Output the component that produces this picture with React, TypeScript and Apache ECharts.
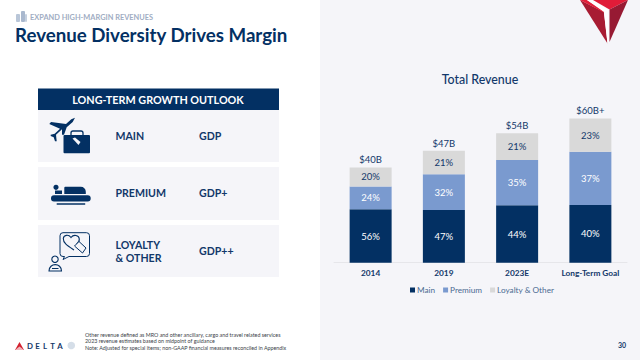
import React, { useEffect, useRef } from "react";
import * as echarts from "echarts";

const categories = ["2014", "2019", "2023E", "Long-Term Goal"];
const mainValues = [22.4, 22.1, 24.1, 24.2];
const premiumValues = [9.6, 15.0, 19.0, 22.4];
const loyaltyValues = [8.0, 9.9, 11.3, 14.0];
const totalValues = [40.0, 47.0, 54.4, 60.6];
const mainLabels = ["56%", "47%", "44%", "40%"];
const premiumLabels = ["24%", "32%", "35%", "37%"];
const loyaltyLabels = ["20%", "21%", "21%", "23%"];
const totalLabels = ["$40B", "$47B", "$54B", "$60B+"];
const footnotes = [
  "Other revenue defined as MRO and other ancillary, cargo and travel related services",
  "2023 revenue estimates based on midpoint of guidance",
  "Note: Adjusted for special items; non-GAAP financial measures reconciled in Appendix",
];
const outlookRows = [
  { y: 110, h: 52 },
  { y: 167, h: 53 },
  { y: 225, h: 52 },
];

const NAVY = "#033063";
const INK = "#12386a";
const BLUE = "#7a9acf";
const GREY = "#d9d9d9";
const FONT = "Lato";

echarts.graphic.registerShape(
  "dlPlane",
  echarts.graphic.extendPath(
    "M75 117.7 L72.7 122 L66.7 127.3 L64 134.7 L62 134.7 L62 129.3 L56 134.7 L56.7 141.3 L55 141.3 L53.7 137.3 L50.7 136 L50.7 134.7 L54.7 133.7 L60 128.7 L49.3 124 L51 122 L66 124 L71.3 119.3 Z",
    {}
  )
);
echarts.graphic.registerShape(
  "dlHeart",
  echarts.graphic.extendPath(
    "M74 250 C68 246 63 243 63.3 238.5 C63.6 235 68.5 234 71 237.5 C73.5 234 79 235 79.3 239 C79.5 241 78 243 76.5 244.5",
    {}
  )
);
echarts.graphic.registerShape(
  "dlBody",
  echarts.graphic.extendPath(
    "M49 271 C49 262.5 61.5 262.5 61.5 271 L61.5 271 Z M52 268.5 L58.5 268.5",
    {}
  )
);
echarts.graphic.registerShape(
  "dlBubble",
  echarts.graphic.extendPath(
    "M63 232.7 L86.5 232.7 Q89.5 232.7 89.5 235.7 L89.5 253.5 Q89.5 256.5 86.5 256.5 L69 256.5 L63 259.5 L64.5 256.5 L63 256.5 Q60 256.5 60 253.5 L60 235.7 Q60 232.7 63 232.7 Z",
    {}
  )
);

function text(x: number, y: number, t: string, size: number, fill: string, weight: any = "normal", align: any = "left") {
  return {
    type: "text",
    x,
    y,
    style: { text: t, fontFamily: FONT, fontSize: size, fontWeight: weight, fill, align, verticalAlign: "middle" },
  };
}
function rect(x: number, y: number, width: number, height: number, fill: string, r = 0) {
  return { type: "rect", shape: { x, y, width, height, r }, style: { fill } };
}
function poly(points: number[][], fill: string) {
  return { type: "polygon", shape: { points }, style: { fill } };
}

const graphicElements: any[] = [
  rect(320, 0, 320, 360, "#f5f5f9"),
  // header icon
  rect(16, 14, 4, 8, "#b9c6d8", 1),
  rect(21, 11, 4, 11, "#a9b8ce", 1),
  rect(25, 14, 2, 8, "#c5d0df", 1),
  text(30, 17.5, "EXPAND HIGH-MARGIN REVENUES", 7.4, "#9fadc3", "bold"),
  text(15, 35, "Revenue Diversity Drives Margin", 18.7, NAVY, "bold"),
  // outlook table
  rect(38, 88.5, 241, 21.5, NAVY),
  text(158, 99.7, "LONG-TERM GROWTH OUTLOOK", 10.8, "#ffffff", "bold", "center"),
  ...outlookRows.map((r) => rect(38, r.y, 241, r.h, "#f5f5f9")),
  text(115.5, 135.5, "MAIN", 10.6, INK, "bold"),
  text(199, 135.5, "GDP", 10.6, INK, "bold"),
  text(115.5, 192.7, "PREMIUM", 10.6, INK, "bold"),
  text(199, 192.7, "GDP+", 10.6, INK, "bold"),
  text(115.5, 245, "LOYALTY", 10.6, INK, "bold"),
  text(115.5, 257.7, "& OTHER", 10.6, INK, "bold"),
  text(199, 251.3, "GDP++", 10.6, INK, "bold"),
  // plane + suitcase
  { type: "dlPlane", x: 0, y: 0, style: { fill: NAVY } },
  { type: "rect", shape: { x: 71, y: 131, width: 12, height: 6, r: 2 }, style: { fill: "none", stroke: NAVY, lineWidth: 1.3 } },
  rect(63.5, 135, 26.5, 18.3, NAVY, 1),
  poly([[72.5, 138.5], [75, 137.5], [80.5, 142], [78.5, 145]], "#f5f5f9"),
  // bed
  { type: "circle", shape: { cx: 56, cy: 187.3, r: 2.6 }, style: { fill: NAVY } },
  rect(55, 190.5, 7, 3.5, NAVY),
  { type: "rect", shape: { x: 64.3, y: 186.7, width: 21.5, height: 7.3, r: [1, 5, 0, 0] }, style: { fill: NAVY } },
  rect(51, 195.3, 39.7, 6.2, NAVY, 3),
  rect(56.7, 203.3, 28.5, 1.5, NAVY),
  // loyalty
  { type: "dlBubble", x: 0, y: 0, style: { fill: "none", stroke: NAVY, lineWidth: 1 } },
  { type: "dlHeart", x: 0, y: 0, style: { fill: "none", stroke: NAVY, lineWidth: 1.1 } },
  { type: "polygon", shape: { points: [[74.5, 246], [79, 241.5], [86, 248], [82.5, 253]] }, style: { fill: "#f5f5f9", stroke: NAVY, lineWidth: 1 } },
  { type: "circle", shape: { cx: 55, cy: 259.3, r: 3.2 }, style: { fill: "none", stroke: NAVY, lineWidth: 1.1 } },
  { type: "dlBody", x: 0, y: 0, style: { fill: "none", stroke: NAVY, lineWidth: 1.1 } },
  // footer
  poly([[19.5, 342], [15, 350], [24, 350]], "#d3212f"),
  poly([[19.5, 346.5], [15, 350], [24, 350]], "#f0b6bc"),
  ...["D", "E", "L", "T", "A"].map((c, i) => text(30 + i * 7.5, 345.7, c, 7.8, INK, "bold", "center")),
  { type: "circle", shape: { cx: 71.3, cy: 345.5, r: 3.8 }, style: { fill: "#d5dee8" } },
  ...footnotes.map((f, i) => text(85, 334.8 + i * 6.6, f, 5.35, "#3a3f48")),
  text(626, 345, "30", 7, INK, "bold", "right"),
  // delta widget
  poly([[580, 0], [607.5, 43.5], [603.8, 12]], "#a81c33"),
  poly([[580, 0], [587, 0], [604, 11], [603.8, 12.5]], "#e2203a"),
  poly([[587, 0], [593, 0], [608.5, 10], [608.8, 42], [607.5, 43.5], [604, 12]], "#ffffff"),
  poly([[593, 0], [628, 0], [609.5, 9.5]], "#e01c38"),
  poly([[628, 0], [609.5, 9.5], [609.5, 42]], "#971a33"),
  // chart title
  text(480, 79, "Total Revenue", 12.4, INK, 500, "center"),
];

function barSeries(name: string, data: number[], labels: string[], color: string, labelColor: string) {
  return {
    name,
    type: "bar",
    stack: "total",
    data,
    barWidth: 42,
    itemStyle: { color },
    label: {
      show: true,
      position: "inside",
      fontFamily: FONT,
      fontSize: 9.5,
      color: labelColor,
      formatter: (p: any) => labels[p.dataIndex],
    },
  };
}

export default function App() {
  const ref = useRef<HTMLDivElement>(null);
  useEffect(() => {
    document.body.style.margin = "0";
    const chart = echarts.init(ref.current!, undefined, { renderer: "svg" });
    chart.setOption({
      animation: false,
      backgroundColor: "#ffffff",
      textStyle: { fontFamily: FONT },
      graphic: { elements: graphicElements },
      grid: { left: 334, right: 13, top: 96, bottom: 97.3 },
      legend: {
        data: ["Main", "Premium", "Loyalty & Other"],
        left: 410,
        top: 286,
        padding: 0,
        itemWidth: 5,
        itemHeight: 5,
        itemGap: 8,
        icon: "rect",
        textStyle: { fontFamily: FONT, fontSize: 8.2, color: "#4a6a92", padding: [0, 0, 0, -3] },
      },
      xAxis: {
        type: "category",
        data: categories,
        axisTick: { show: false },
        axisLine: { lineStyle: { color: "#e6e6ea", width: 1 } },
        axisLabel: { interval: 0, hideOverlap: false, fontFamily: FONT, fontSize: 8.3, fontWeight: "bold", color: INK, margin: 6 },
      },
      yAxis: { type: "value", min: 0, max: 70, show: false },
      series: [
        barSeries("Main", mainValues, mainLabels, NAVY, "#ffffff"),
        barSeries("Premium", premiumValues, premiumLabels, BLUE, "#ffffff"),
        barSeries("Loyalty & Other", loyaltyValues, loyaltyLabels, GREY, INK),
        {
          name: "Total",
          type: "line",
          data: totalValues,
          symbol: "circle",
          symbolSize: 1,
          showSymbol: true,
          showAllSymbol: true,
          itemStyle: { color: "rgba(0,0,0,0)" },
          lineStyle: { color: "rgba(0,0,0,0)", width: 0 },
          label: {
            show: true,
            position: "top",
            distance: 2,
            fontFamily: FONT,
            fontSize: 9.5,
            color: INK,
            formatter: (p: any) => totalLabels[p.dataIndex],
          },
        },
      ],
    });
    return () => chart.dispose();
  }, []);
  return <div ref={ref} style={{ width: 640, height: 360 }} />;
}
